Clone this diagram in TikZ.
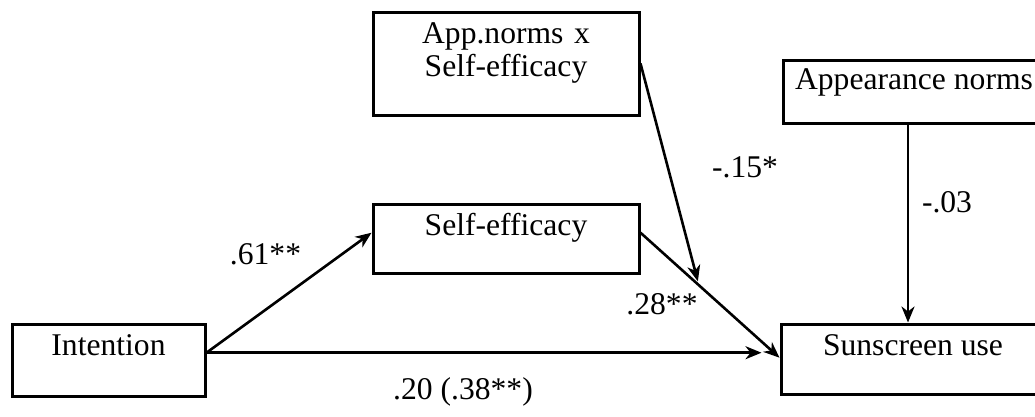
\documentclass[tikz,border=0pt]{standalone}
\usepackage{fontspec}
\setmainfont{Liberation Serif}
\usetikzlibrary{arrows.meta, calc}

\begin{document}
\begin{tikzpicture}[x=1pt, y=-1pt,
    every node/.style={font=\fontsize{31.6}{33}\selectfont},
    box/.style={draw, line width=3pt, inner sep=0pt, align=center, anchor=base},
    effect/.style={line width=2.6pt, -{Stealth[length=16pt, width=13pt, inset=5pt]}}]
  \useasboundingbox (0,0) rectangle (1035,416);

  % caixas
  \node[box, minimum width=193pt, text height=31pt, text depth=41pt] (int) at (108.5,355) {Intention};
  \node[box, minimum width=266pt, text height=31pt, text depth=38pt] (se) at (506,235) {Self-efficacy};
  \node[box, text width=266pt, text height=31pt, text depth=72pt] (am) at (506,43) {App.norms x\\Self-efficacy};
  \node[box, minimum width=262pt, text height=29pt, text depth=34pt] (an) at (914,89) {Appearance norms};
  \node[box, minimum width=264pt, text height=31pt, text depth=39pt] (su) at (913,355) {Sunscreen use};

  % setas
  \coordinate (su in) at ([yshift=-5pt]su.mid west);
  \coordinate (mod) at ($(se.mid east)!0.42!(su in)$);
  \draw[effect] (int.mid east) -- (se.mid west);
  \draw[effect, shorten >=18pt] (int.mid east) -- (su.mid west);
  \draw[effect] (se.mid east) -- (su in);
  \draw[effect, shorten >=4pt] (am.east) -- (mod);
  \draw[effect] ([xshift=-6pt]an.south) -- ([xshift=-6pt]an.south |- su.north);

  % coeficientes
  \node[anchor=base] (b1) at (265.5,264) {.61**};
  \node[anchor=base] (b2) at (662,314) {.28**};
  \node[anchor=base] (b3) at (745,177) {-.15*};
  \node[anchor=base] (b4) at (947,212) {-.03};
  \node[anchor=base] (c1) at (463,399) {.20 (.38**)};
\end{tikzpicture}
\end{document}
